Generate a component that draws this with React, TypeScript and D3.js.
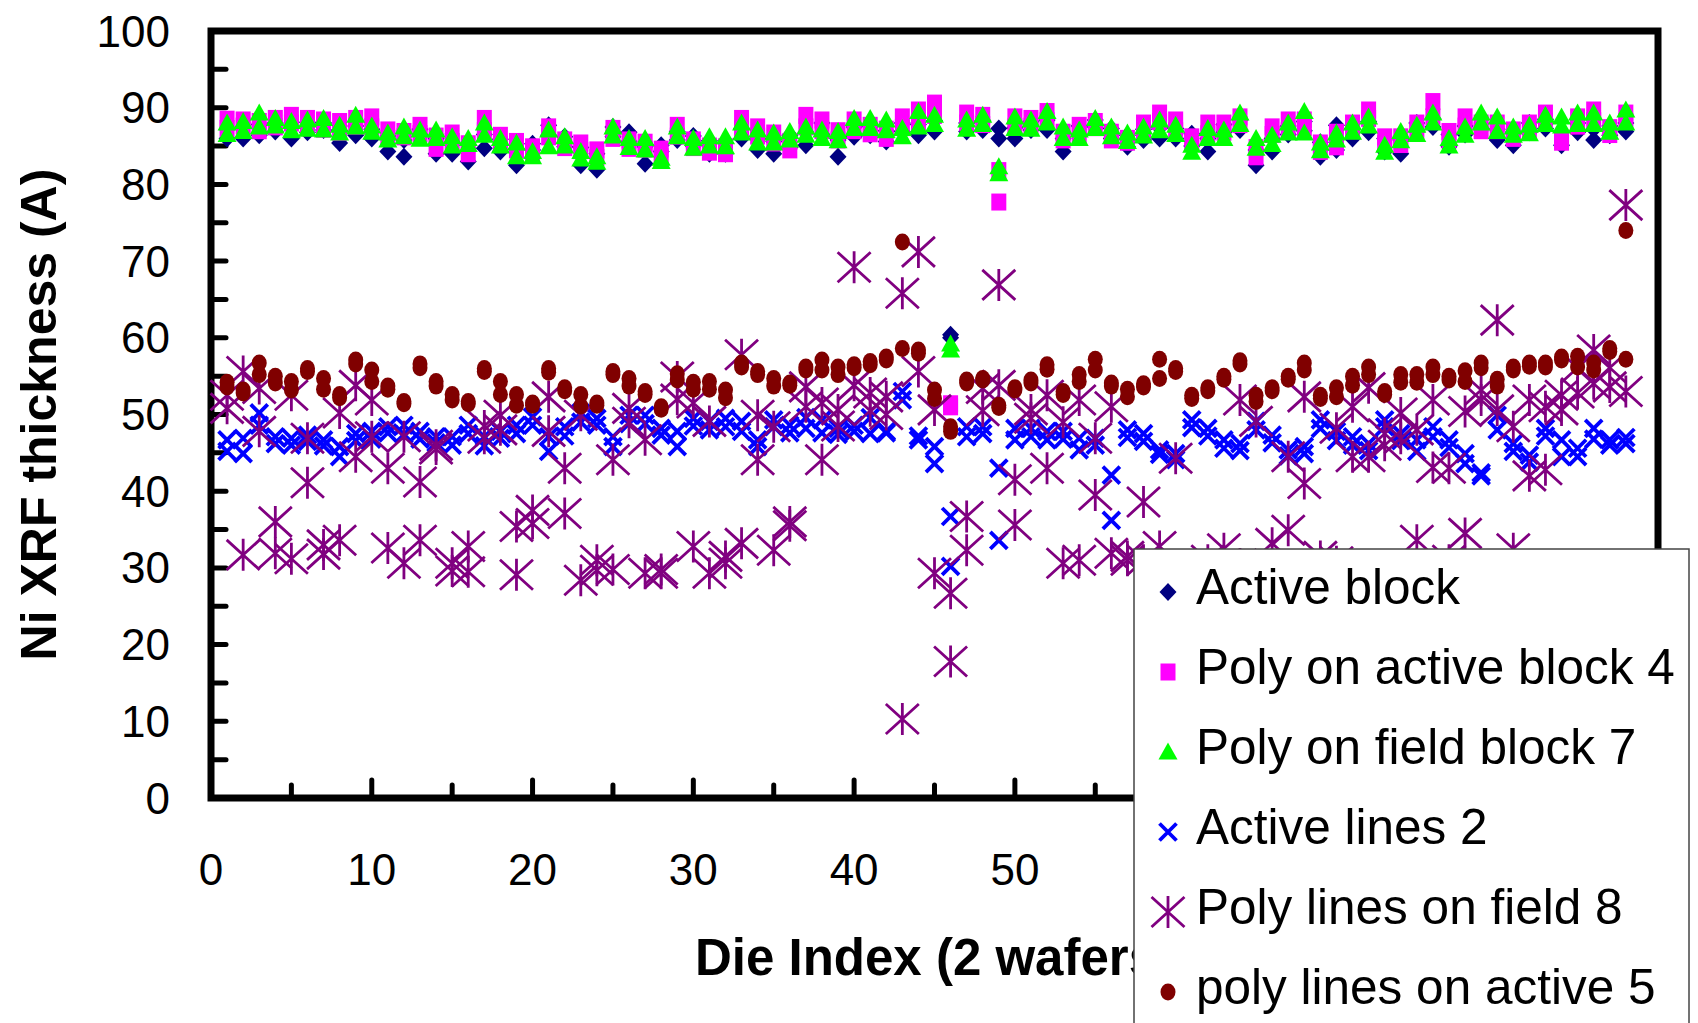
import React from "react";
import * as d3 from "d3";

// Values per die index (1..88); each series has one reading per wafer (A, B)
const activeBlockA = [86.0,86.0,86.4,86.9,86.0,86.8,87.1,85.4,86.4,86.0, 84.3,83.6,86.5,84.0,84.0,83.0,84.7,84.3,82.5,84.5, 87.7,84.9,82.5,81.9,87.5,85.6,82.7,84.3,85.8,85.0, 84.0,84.0,86.0,84.5,84.0,84.8,85.1,88.0,83.6,86.2, 86.4,85.6,86.9,86.4,86.9,60.4,86.9,87.1,86.0,86.0, 87.1,87.1,84.3,86.5,87.5,86.0,84.9,85.8,86.0,86.0, 85.0,84.3,86.8,87.1,82.5,84.3,86.5,87.0,83.6,84.5, 86.0,88.2,84.3,84.0,86.9,87.5,84.9,86.5,87.3,85.8, 85.1,86.8,87.3,85.1,86.8,85.8,86.4,86.9];
const activeBlockB = [87.2,87.5,87.8,88.0,87.4,88.1,88.0,87.0,87.6,87.2, 86.3,85.8,87.2,86.0,85.5,85.2,86.5,85.9,84.6,85.3, 86.4,86.2,84.8,84.0,86.2,86.8,84.9,85.1,86.9,86.3, 85.7,85.4,87.3,86.0,85.6,86.4,86.8,86.5,85.8,87.5, 87.6,87.0,88.0,87.8,88.3,60.0,88.0,88.3,87.3,87.4, 88.2,88.4,86.0,87.6,88.4,87.3,86.4,87.2,87.4,87.3, 86.6,86.0,87.8,88.4,84.5,86.0,87.6,88.2,85.5,87.7, 87.3,86.8,86.0,85.8,88.0,88.6,86.5,87.6,88.5,87.2, 86.8,88.0,88.5,86.8,88.0,87.2,87.6,88.0];
const polyActiveBlockA = [88.5,88.4,88.2,88.6,89.0,88.6,88.4,88.2,88.6,88.8, 87.1,86.9,87.7,84.7,86.7,84.0,88.6,86.4,84.5,84.9, 87.5,85.8,85.4,84.5,87.3,85.8,85.5,83.6,87.7,85.8, 85.0,84.9,88.6,87.5,86.7,84.5,89.0,87.0,87.0,88.4, 87.7,87.2,88.8,89.7,90.6,51.0,89.3,89.0,77.7,88.8, 88.6,89.5,85.8,87.7,88.2,86.8,86.0,88.0,89.3,88.4, 85.5,88.0,88.0,88.8,83.6,87.5,88.4,88.4,84.3,84.9, 88.0,89.7,86.2,86.2,88.0,90.8,86.9,88.8,88.0,88.0, 87.1,88.0,89.3,86.0,88.8,89.7,87.4,89.3];
const polyActiveBlockB = [87.3,87.6,87.0,87.5,88.0,87.4,87.2,86.8,87.6,87.5, 86.0,86.2,86.6,86.3,85.6,85.3,87.0,85.2,85.6,84.0, 86.2,84.8,84.4,83.5,86.0,84.7,84.6,84.6,86.3,84.8, 84.2,84.0,87.2,86.3,85.4,85.6,87.5,88.4,85.8,87.0, 86.6,86.0,87.4,88.0,89.0,51.4,88.0,87.8,81.8,87.5, 87.6,88.3,86.8,86.5,87.4,85.8,85.5,87.0,88.2,87.0, 86.2,86.6,86.8,87.8,84.8,86.5,87.0,87.4,85.4,86.8, 87.0,88.6,85.3,85.2,87.0,88.8,85.8,87.6,87.0,87.0, 86.0,87.0,88.2,85.5,87.6,88.3,86.5,88.2];
const polyFieldBlockA = [88.0,88.2,89.3,88.6,88.2,88.4,88.6,87.7,89.0,87.6, 86.7,87.5,87.1,87.1,86.2,86.0,88.0,86.0,85.4,84.3, 87.1,86.2,84.3,83.6,87.5,86.0,86.0,83.4,87.5,86.0, 86.2,86.2,88.0,87.1,86.7,86.9,87.5,87.1,86.9,88.6, 88.6,88.4,87.3,89.5,89.0,59.2,88.4,89.0,82.3,88.8, 88.4,89.5,87.5,87.1,88.6,87.5,86.7,87.5,88.4,87.7, 85.1,87.3,87.1,89.3,86.0,86.4,88.0,89.5,85.4,86.7, 88.0,88.8,85.1,86.9,87.7,89.3,86.0,87.5,89.3,88.8, 87.5,87.7,89.0,88.8,89.3,89.3,88.0,89.7];
const polyFieldBlockB = [86.5,86.9,87.5,87.6,87.0,87.2,87.1,86.7,87.5,86.8, 85.8,86.2,85.9,86.0,85.0,85.2,86.4,85.0,83.6,83.6, 84.9,85.0,83.3,82.9,86.3,84.8,84.5,83.0,86.2,84.7, 85.0,84.9,86.7,85.4,85.4,85.8,86.4,86.0,85.7,87.3, 87.3,87.0,86.2,87.5,87.8,58.4,87.2,87.8,81.4,87.3, 87.2,88.0,86.0,86.0,87.3,86.2,85.6,86.3,87.0,86.5, 84.2,86.0,86.0,87.8,84.7,85.2,86.7,86.7,84.4,85.8, 86.8,87.6,84.2,85.7,86.5,88.0,85.0,86.4,88.0,86.9, 86.4,86.6,87.8,87.6,87.8,87.8,86.8,88.0];
const activeLinesA = [46.7,46.9,50.2,47.1,46.9,46.5,46.7,45.8,47.5,47.8, 48.4,48.6,47.8,47.1,47.1,48.6,47.1,46.9,48.6,49.7, 47.1,48.4,50.2,49.5,47.1,49.9,49.9,48.2,47.8,49.5, 49.1,49.5,49.1,46.7,49.3,48.6,48.2,49.3,48.2,47.8, 47.5,47.8,51.9,46.7,45.8,36.7,47.1,48.4,43.0,48.2, 47.1,46.7,47.8,46.9,46.9,42.1,48.0,47.5,45.4,44.1, 49.3,48.2,46.7,46.2,49.1,47.3,45.4,45.8,49.3,47.8, 47.1,46.2,49.3,47.5,46.7,48.4,46.7,44.9,42.4,49.9, 46.2,44.7,48.2,46.7,45.6,48.2,46.7,47.0];
const activeLinesB = [45.2,44.9,48.6,46.2,46.0,47.3,45.9,44.5,46.6,46.8, 47.6,47.4,46.8,46.3,46.0,47.5,45.9,47.8,47.5,48.6, 45.2,47.2,49.0,48.6,45.8,48.8,48.8,47.3,45.8,48.5, 48.0,48.4,47.8,45.8,48.4,47.6,49.6,47.6,47.4,48.6, 49.6,47.6,53.0,47.2,43.6,30.2,48.4,47.5,33.6,46.7, 48.2,47.8,46.8,45.4,46.0,36.2,47.0,46.5,44.8,44.9, 48.3,47.2,45.6,45.3,48.0,46.3,44.6,44.9,48.2,46.6, 46.0,45.3,48.4,46.6,45.2,47.1,45.7,43.6,42.0,48.0, 45.2,43.8,47.2,44.5,44.5,46.8,46.0,46.2];
const polyLinesFieldA = [52.5,55.6,53.4,36.0,52.5,46.9,33.0,50.2,53.8,51.9, 43.0,47.1,41.2,46.0,30.6,32.8,46.9,49.9,35.4,37.5, 52.3,43.0,49.9,31.0,44.1,50.8,46.7,29.3,54.9,51.5, 49.1,30.6,57.8,49.9,48.4,36.0,53.6,44.1,50.6,69.2, 52.8,52.3,65.8,71.2,50.6,26.7,36.7,53.4,66.9,41.5, 50.6,52.5,30.6,51.9,46.9,51.0,31.5,38.6,32.8,44.3, 30.0,31.0,32.5,51.9,49.1,33.2,44.5,52.3,30.0,48.2, 44.5,53.5,47.5,50.2,48.0,51.9,43.0,50.4,51.9,62.3, 48.4,51.9,51.0,50.6,52.8,58.4,53.6,77.3];
const polyLinesFieldB = [50.8,31.7,47.8,31.9,31.2,41.1,31.8,33.6,44.5,47.1, 32.6,30.6,33.6,45.5,29.6,29.5,48.5,48.0,29.1,35.8, 47.8,37.1,28.4,29.7,29.8,49.0,29.3,29.8,52.0,32.8, 29.3,31.5,33.2,44.1,32.3,35.5,51.0,51.5,48.5,53.8, 50.5,50.0,10.3,55.6,29.3,17.8,32.3,50.5,53.8,35.6, 49.5,43.0,49.0,31.0,39.5,31.9,31.0,31.0,30.0,29.5, 28.5,29.0,30.0,30.5,29.5,30.0,34.9,41.0,31.5,30.8, 51.0,44.5,46.0,46.9,33.6,43.1,31.0,34.5,53.2,50.6, 32.5,42.0,42.8,52.5,56.1,54.0,56.1,53.0];
const polyLinesActiveA = [54.2,53.2,56.7,55.0,54.3,56.0,54.7,52.6,57.1,55.8, 53.7,51.7,56.6,54.3,52.6,51.7,56.0,54.3,52.6,51.5, 56.0,53.5,52.6,51.5,55.6,54.7,53.0,51.0,55.3,54.2, 54.3,53.2,56.7,55.6,54.7,54.1,56.2,57.1,56.2,56.5, 56.9,57.5,72.5,58.4,53.2,48.4,54.5,54.7,51.2,53.5, 54.5,56.5,53.0,55.2,57.2,54.1,53.3,54.0,57.2,56.0, 52.5,53.5,55.0,57.0,52.5,53.5,55.0,56.7,52.5,53.5, 55.0,56.2,53.0,55.2,55.2,56.2,55.0,55.7,56.7,54.6, 56.2,56.7,56.7,57.5,57.6,56.7,58.6,74.0];
const polyLinesActiveB = [53.6,52.8,55.2,54.1,53.2,55.6,53.3,52.2,56.6,54.3, 53.3,51.4,56.1,53.7,51.9,51.4,55.6,52.6,51.2,51.2, 55.5,53.1,51.1,51.2,55.2,53.7,52.6,50.7,54.5,53.3, 53.3,52.2,56.2,55.2,53.7,53.8,55.8,55.8,55.2,56.1, 56.5,57.1,58.6,58.0,52.1,47.8,54.1,54.5,50.9,53.2, 54.1,55.9,52.6,54.3,55.8,53.7,52.3,53.6,54.7,55.6, 52.1,53.1,54.6,56.6,51.7,53.1,54.6,55.8,52.1,52.3, 53.8,55.2,52.6,54.2,54.2,55.2,54.5,54.3,56.1,53.7, 55.8,56.3,56.2,57.1,56.2,55.8,58.2,57.2];

const seriesNames = [
  "Active block",
  "Poly on active block 4",
  "Poly on field block 7",
  "Active lines 2",
  "Poly lines on field 8",
  "poly lines on active 5",
];
const seriesColors = ["#000080", "#FF00FF", "#00FF00", "#0000FF", "#800080", "#800000"];
const seriesShapes = ["diamond", "square", "triangle", "x", "asterisk", "circle"];
const seriesData = [
  [activeBlockA, activeBlockB],
  [polyActiveBlockA, polyActiveBlockB],
  [polyFieldBlockA, polyFieldBlockB],
  [activeLinesA, activeLinesB],
  [polyLinesFieldA, polyLinesFieldB],
  [polyLinesActiveA, polyLinesActiveB],
];
const yTickLabels = [0, 10, 20, 30, 40, 50, 60, 70, 80, 90, 100];
// labels 60..90 lie under the legend box in the reference and are not visible
const xTickLabels = [0, 10, 20, 30, 40, 50];

const FONT = "'Liberation Sans', Arial, sans-serif";

function Marker({ shape, color, cx, cy }: { shape: string; color: string; cx: number; cy: number }) {
  const t = `translate(${cx},${cy})`;
  switch (shape) {
    case "diamond":
      return <path transform={t} d="M0,-9L8.5,0L0,9L-8.5,0Z" fill={color} />;
    case "square":
      return <rect transform={t} x={-7.5} y={-8.5} width={15} height={17} fill={color} />;
    case "triangle":
      return <path transform={t} d="M0,-9.5L9.5,7.5L-9.5,7.5Z" fill={color} />;
    case "x":
      return (
        <path transform={t} d="M-8.5,-8.5L8.5,8.5M-8.5,8.5L8.5,-8.5" stroke={color} strokeWidth={3.8} fill="none" />
      );
    case "asterisk":
      return (
        <path
          transform={t}
          d="M0,-16L0,16M-16.5,-15L16.5,15M-16.5,15L16.5,-15"
          stroke={color}
          strokeWidth={2.8}
          fill="none"
        />
      );
    default:
      return <ellipse transform={t} rx={7.5} ry={8.5} fill={color} />;
  }
}

export default function App() {
  const W = 1698;
  const H = 1023;
  const x = d3.scaleLinear().domain([0, 90]).range([211, 1658]);
  const y = d3.scaleLinear().domain([0, 100]).range([798, 31]);
  const xMinor = d3.range(5, 90, 5);
  const yMinor = d3.range(5, 100, 5);

  const legend = { x: 1134, y: 549, w: 555, h: 520, row0: 604, step: 80 };

  return (
    <svg
      width={W}
      height={H}
      viewBox={`0 0 ${W} ${H}`}
      style={{ position: "absolute", left: 0, top: 0, background: "#fff" }}
      fontFamily={FONT}
    >
      <rect x={0} y={0} width={W} height={H} fill="#fff" />

      {/* ticks */}
      {yMinor.map((v) => (
        <line key={"yt" + v} x1={x(0)} x2={x(0) + 15} y1={y(v)} y2={y(v)} stroke="#000" strokeWidth={5} strokeLinecap="round" />
      ))}
      {xMinor.map((v) => (
        <line
          key={"xt" + v}
          x1={x(v)}
          x2={x(v)}
          y1={y(0)}
          y2={y(0) - (v % 10 === 0 ? 18 : 13)}
          stroke="#000"
          strokeWidth={5}
          strokeLinecap="round"
        />
      ))}

      {/* frame */}
      <rect x={x(0)} y={y(100)} width={x(90) - x(0)} height={y(0) - y(100)} fill="none" stroke="#000" strokeWidth={7} />

      {/* data */}
      {seriesData.map((pair, s) =>
        pair.map((vals, w) =>
          vals.map((v, i) => (
            <Marker
              key={`m${s}-${w}-${i}`}
              shape={seriesShapes[s]}
              color={seriesColors[s]}
              cx={x(i + 1)}
              cy={y(v)}
            />
          ))
        )
      )}

      {/* y tick labels */}
      {yTickLabels.map((v) => (
        <text key={"yl" + v} x={170} y={y(v) + 15.5} textAnchor="end" fontSize={44} fill="#000">
          {v}
        </text>
      ))}
      {/* x tick labels */}
      {xTickLabels.map((v) => (
        <text key={"xl" + v} x={x(v)} y={885} textAnchor="middle" fontSize={44} fill="#000">
          {v}
        </text>
      ))}

      {/* axis titles */}
      <text
        transform={`translate(56,${(y(0) + y(100)) / 2}) rotate(-90)`}
        textAnchor="middle"
        fontSize={50}
        fontWeight="bold"
        fill="#000"
      >
        Ni XRF thickness (A)
      </text>
      <text x={(x(0) + x(90)) / 2} y={975} textAnchor="middle" fontSize={51} fontWeight="bold" fill="#000">
        Die Index (2 wafers)
      </text>

      {/* legend */}
      <rect x={legend.x} y={legend.y} width={legend.w} height={legend.h} fill="#fff" stroke="#444" strokeWidth={1.5} />
      {seriesNames.map((name, s) => {
        const by = legend.row0 + s * legend.step;
        return (
          <g key={"lg" + s}>
            <Marker shape={seriesShapes[s]} color={seriesColors[s]} cx={1168} cy={by - 12} />
            <text x={1196} y={by} fontSize={49.5} fill="#000">
              {name}
            </text>
          </g>
        );
      })}
    </svg>
  );
}
